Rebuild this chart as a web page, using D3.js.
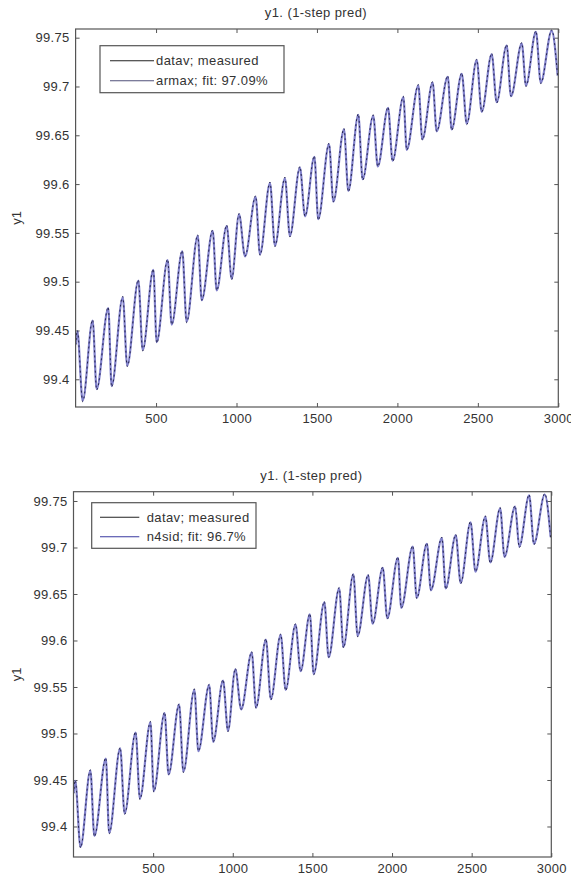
<!DOCTYPE html>
<html><head><meta charset="utf-8">
<script src="https://cdn.jsdelivr.net/npm/d3@7"></script>
<style>
body{margin:0;background:#fff}
text{font-family:"Liberation Sans",Arial,Helvetica,sans-serif}
</style>
</head><body>
<svg id="c" width="571" height="877"></svg>
<script>
// sample index of the read turning points (start, peaks/troughs, end)
const sampleIdx = [1, 11, 44, 106, 131, 203, 224, 293, 321, 390, 417, 483, 504, 572, 597, 663, 690, 759, 784, 852, 877, 939, 970,
  1016, 1053, 1119, 1146, 1208, 1239, 1301, 1332, 1394, 1426, 1484, 1508, 1575, 1602, 1668, 1695, 1757, 1784, 1850, 1878, 1942, 1970,
  2037, 2058, 2130, 2155, 2219, 2244, 2313, 2337, 2400, 2431, 2493, 2524, 2586, 2617, 2679, 2706, 2773, 2799, 2861, 2891, 2959, 2996];
// measured output y1 (datav)
const measured = [99.435, 99.450, 99.377, 99.461, 99.389, 99.474, 99.392, 99.485, 99.413, 99.502, 99.429, 99.513, 99.437, 99.523, 99.456,
  99.532, 99.458, 99.548, 99.481, 99.553, 99.491, 99.558, 99.502, 99.570, 99.526, 99.588, 99.527, 99.602, 99.536, 99.607, 99.546,
  99.618, 99.567, 99.629, 99.563, 99.642, 99.582, 99.657, 99.592, 99.672, 99.604, 99.671, 99.618, 99.679, 99.623, 99.690, 99.635,
  99.702, 99.645, 99.705, 99.654, 99.711, 99.655, 99.714, 99.661, 99.728, 99.674, 99.734, 99.683, 99.743, 99.690, 99.745, 99.700,
  99.757, 99.703, 99.758, 99.710];
// 1-step predictions overlap the measured curve at this resolution
const armaxPred = [99.436, 99.449, 99.378, 99.460, 99.390, 99.473, 99.393, 99.484, 99.414, 99.501, 99.430, 99.512, 99.438, 99.522, 99.456,
  99.531, 99.459, 99.547, 99.481, 99.552, 99.491, 99.557, 99.503, 99.569, 99.526, 99.587, 99.528, 99.601, 99.537, 99.606, 99.547,
  99.617, 99.567, 99.628, 99.564, 99.641, 99.582, 99.656, 99.593, 99.671, 99.605, 99.670, 99.618, 99.678, 99.624, 99.689, 99.635,
  99.701, 99.646, 99.704, 99.654, 99.710, 99.656, 99.713, 99.662, 99.727, 99.674, 99.733, 99.684, 99.742, 99.690, 99.744, 99.701,
  99.756, 99.704, 99.757, 99.711];
const n4sidPred = [99.436, 99.449, 99.378, 99.460, 99.390, 99.473, 99.393, 99.484, 99.414, 99.501, 99.430, 99.512, 99.438, 99.522, 99.456,
  99.531, 99.459, 99.547, 99.481, 99.552, 99.491, 99.557, 99.503, 99.569, 99.526, 99.587, 99.528, 99.601, 99.537, 99.606, 99.547,
  99.617, 99.567, 99.628, 99.564, 99.641, 99.582, 99.656, 99.593, 99.671, 99.605, 99.670, 99.618, 99.678, 99.624, 99.689, 99.635,
  99.701, 99.646, 99.704, 99.654, 99.710, 99.656, 99.713, 99.662, 99.727, 99.674, 99.733, 99.684, 99.742, 99.690, 99.744, 99.701,
  99.756, 99.704, 99.757, 99.711];

const xTicks = [500, 1000, 1500, 2000, 2500, 3000];
const yTicks = [99.4, 99.45, 99.5, 99.55, 99.6, 99.65, 99.7, 99.75];
const yTickLabels = ["99.4", "99.45", "99.5", "99.55", "99.6", "99.65", "99.7", "99.75"];
const titleText = "y1. (1-step pred)";
const yLabelText = "y1";
const legendTop = ["datav; measured", "armax; fit: 97.09%"];
const legendBottom = ["datav; measured", "n4sid; fit: 96.7%"];

const svg = d3.select("#c");
const FONT = 13;
const TXT = "#333";
const FRAME = "#555";

function panel(cfg, idx) {
  const x = d3.scaleLinear().domain([0, 3000]).range([cfg.left, cfg.right]);
  const y = d3.scaleLinear().domain(cfg.yDomain).range([cfg.bottom, cfg.top]);
  const g = svg.append("g");

  const clipId = "clip" + idx;
  svg.append("clipPath").attr("id", clipId).append("rect")
    .attr("x", cfg.left).attr("y", cfg.top)
    .attr("width", cfg.right - cfg.left).attr("height", cfg.bottom - cfg.top);

  const styleAxis = sel => {
    sel.select(".domain").remove();
    sel.selectAll("line").attr("stroke", FRAME);
    sel.selectAll("text").attr("font-size", FONT).attr("fill", TXT)
      .attr("font-family", "Liberation Sans, Arial, sans-serif").attr("letter-spacing", 0.3);
  };
  g.append("g").attr("transform", `translate(0,${cfg.bottom})`)
    .call(d3.axisBottom(x).tickValues(xTicks).tickSize(-4).tickPadding(7).tickFormat(d => String(d)))
    .call(styleAxis);
  g.append("g").attr("transform", `translate(0,${cfg.top})`)
    .call(d3.axisTop(x).tickValues(xTicks).tickSize(-4).tickFormat(""))
    .call(styleAxis);
  g.append("g").attr("transform", `translate(${cfg.left},0)`)
    .call(d3.axisLeft(y).tickValues(yTicks).tickSize(-4).tickPadding(6).tickFormat((d, i) => yTickLabels[i]))
    .call(styleAxis);
  g.append("g").attr("transform", `translate(${cfg.right},0)`)
    .call(d3.axisRight(y).tickValues(yTicks).tickSize(-4).tickFormat(""))
    .call(styleAxis);

  const line = d3.line().x(d => x(d[0])).y(d => y(d[1])).curve(d3.curveMonotoneX);
  const mData = sampleIdx.map((s, i) => [s, measured[i]]);
  const pData = sampleIdx.map((s, i) => [s, cfg.pred[i]]);
  const plot = g.append("g").attr("clip-path", `url(#${clipId})`);
  plot.append("path").datum(pData).attr("d", line)
    .attr("fill", "none").attr("stroke", "#8282cc").attr("stroke-width", 2.2);
  plot.append("path").datum(mData).attr("d", line)
    .attr("fill", "none").attr("stroke", "#24244e").attr("stroke-width", 1)
    .attr("stroke-dasharray", "2,3");

  g.append("rect").attr("x", cfg.left).attr("y", cfg.top)
    .attr("width", cfg.right - cfg.left).attr("height", cfg.bottom - cfg.top)
    .attr("fill", "none").attr("stroke", FRAME).attr("stroke-width", 1.2);

  g.append("text").attr("x", (cfg.left + cfg.right) / 2 - 1).attr("y", cfg.top - 12)
    .attr("text-anchor", "middle").attr("font-size", FONT).attr("fill", TXT).attr("letter-spacing", 0.4)
    .text(titleText);
  g.append("text").attr("transform", `translate(21,${(cfg.top + cfg.bottom) / 2}) rotate(-90)`)
    .attr("text-anchor", "middle").attr("font-size", FONT).attr("fill", TXT)
    .text(yLabelText);

  const L = cfg.legend;
  g.append("rect").attr("x", L.x).attr("y", L.y).attr("width", L.w).attr("height", L.h)
    .attr("fill", "#fff").attr("stroke", FRAME).attr("stroke-width", 1.2);
  const colors = ["#222", cfg.legendColor];
  cfg.legendText.forEach((t, i) => {
    const ry = L.y + L.row0 + i * L.dy;
    g.append("line").attr("x1", L.lx0).attr("x2", L.lx1).attr("y1", ry).attr("y2", ry)
      .attr("stroke", colors[i]).attr("stroke-width", 1.1);
    g.append("text").attr("x", L.tx).attr("y", ry).attr("dy", "0.35em")
      .attr("font-size", FONT).attr("fill", TXT).attr("letter-spacing", 0.4).text(t);
  });
}

panel({
  left: 75.6, right: 558.3, top: 29, bottom: 407,
  yDomain: [99.3716, 99.7589], pred: armaxPred,
  legendText: legendTop, legendColor: "#50507a",
  legend: {x: 100, y: 45.7, w: 184, h: 47, row0: 15, dy: 20, lx0: 110, lx1: 154, tx: 156}
}, 0);

panel({
  left: 73.5, right: 551.3, top: 491.7, bottom: 857,
  yDomain: [99.3672, 99.76], pred: n4sidPred,
  legendText: legendBottom, legendColor: "#3a3aa0",
  legend: {x: 91.7, y: 502.7, w: 164.3, h: 45.6, row0: 14.6, dy: 19.4, lx0: 100, lx1: 139.3, tx: 146.7}
}, 1);
</script>
</body></html>
